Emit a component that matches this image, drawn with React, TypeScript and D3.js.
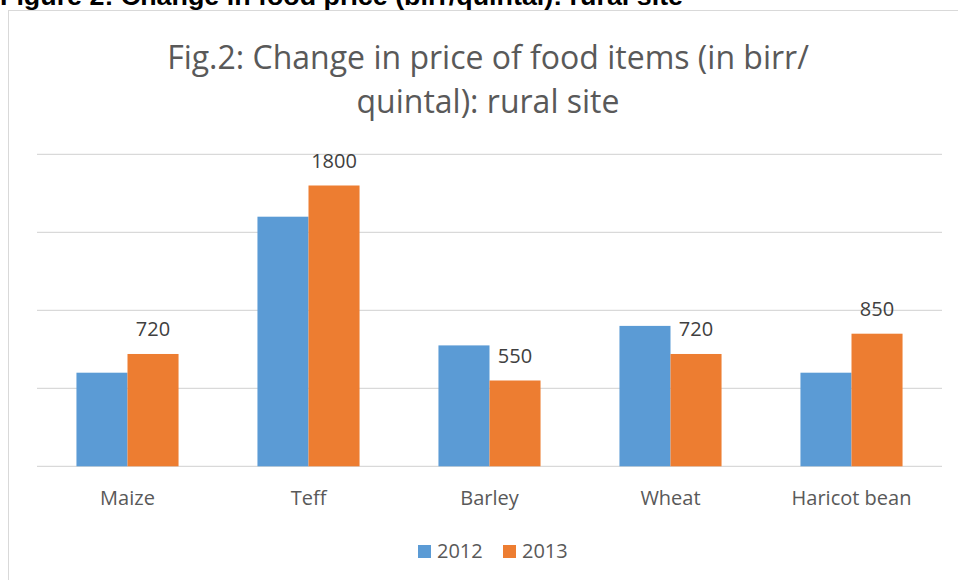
import React from "react";
import { scaleBand, scaleLinear } from "d3";

const categories = ["Maize", "Teff", "Barley", "Wheat", "Haricot bean"];
const seriesNames = ["2012", "2013"];
const values2012 = [600, 1600, 775, 900, 600];
const values2013 = [720, 1800, 550, 720, 850];
const gridTicks = [0, 500, 1000, 1500, 2000];

const W = 958;
const H = 580;
const PLOT = { left: 37, right: 942, top: 154.3, bottom: 466.3 };
const COLORS = ["#5B9BD5", "#ED7D31"];
const FONT = "'Open Sans', sans-serif";

export default function App() {
  const x = scaleBand<string>()
    .domain(categories)
    .range([PLOT.left, PLOT.right])
    .paddingInner(0.436)
    .paddingOuter(0.218);
  const inner = scaleBand<string>().domain(seriesNames).range([0, x.bandwidth()]);
  const y = scaleLinear().domain([0, 2000]).range([PLOT.bottom, PLOT.top]);
  const series = [values2012, values2013];

  return (
    <svg
      width={W}
      height={H}
      viewBox={`0 0 ${W} ${H}`}
      style={{ position: "absolute", left: 0, top: 0, background: "#fff" }}
    >
      {/* cropped document caption above the chart frame */}
      <text
        x={0}
        y={4.5}
        fontFamily="'Liberation Sans', Arial, sans-serif"
        fontWeight="bold"
        fontSize={26}
        fill="#000"
        textLength={683}
        lengthAdjust="spacingAndGlyphs"
      >
        Figure 2: Change in food price (birr/quintal): rural site
      </text>

      {/* chart area frame */}
      <rect x={8.5} y={10.5} width={W + 10} height={H + 10} fill="#fff" stroke="#D9D9D9" strokeWidth={1} />

      <text x={488} y={69} textAnchor="middle" fontFamily={FONT} fontSize={32} fill="#595959">
        Fig.2: Change in price of food items (in birr/
      </text>
      <text x={488} y={113} textAnchor="middle" fontFamily={FONT} fontSize={32} fill="#595959">
        quintal): rural site
      </text>

      {gridTicks.map((t) => (
        <line key={t} x1={PLOT.left} x2={PLOT.right} y1={y(t)} y2={y(t)} stroke="#D9D9D9" strokeWidth={1.2} />
      ))}

      {categories.map((c, i) => (
        <g key={c}>
          {series.map((vals, s) => (
            <rect
              key={s}
              x={(x(c) ?? 0) + (inner(seriesNames[s]) ?? 0)}
              y={y(vals[i])}
              width={inner.bandwidth()}
              height={y(0) - y(vals[i])}
              fill={COLORS[s]}
            />
          ))}
          <text
            x={(x(c) ?? 0) + (inner("2013") ?? 0) + inner.bandwidth() / 2}
            y={y(values2013[i]) - 18}
            textAnchor="middle"
            fontFamily={FONT}
            fontSize={20}
            fill="#404040"
          >
            {values2013[i]}
          </text>
          <text
            x={(x(c) ?? 0) + x.bandwidth() / 2}
            y={505}
            textAnchor="middle"
            fontFamily={FONT}
            fontSize={20}
            fill="#595959"
          >
            {c}
          </text>
        </g>
      ))}

      {seriesNames.map((name, s) => (
        <g key={name} transform={`translate(${418 + s * 85},0)`}>
          <rect x={0} y={545} width={13} height={13} fill={COLORS[s]} />
          <text x={19} y={558} fontFamily={FONT} fontSize={20} fill="#595959">
            {name}
          </text>
        </g>
      ))}
    </svg>
  );
}
